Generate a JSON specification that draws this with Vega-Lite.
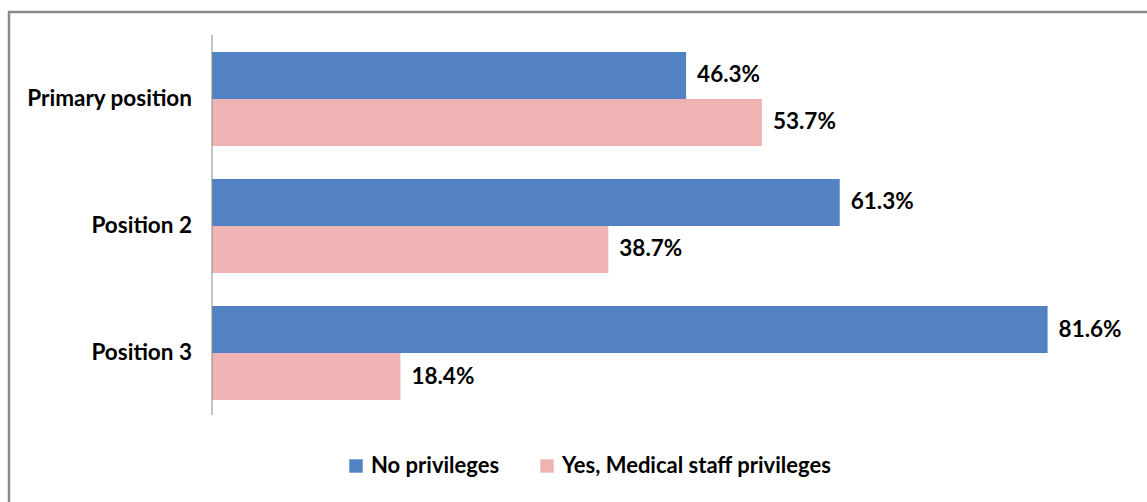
{
  "$schema": "https://vega.github.io/schema/vega-lite/v6.json",
  "width": 1150,
  "height": 500,
  "autosize": {"type": "none"},
  "padding": {"left": 9, "top": 12, "right": 0, "bottom": 0},
  "background": "white",
  "config": {"view": {"stroke": "#8a8a8a", "strokeWidth": 2.5}, "font": "Lato"},
  "data": {
    "values": [
      {"position": "Primary position", "privileges": "No privileges", "pct": 0.463},
      {"position": "Primary position", "privileges": "Yes, Medical staff privileges", "pct": 0.537},
      {"position": "Position 2", "privileges": "No privileges", "pct": 0.613},
      {"position": "Position 2", "privileges": "Yes, Medical staff privileges", "pct": 0.387},
      {"position": "Position 3", "privileges": "No privileges", "pct": 0.816},
      {"position": "Position 3", "privileges": "Yes, Medical staff privileges", "pct": 0.184}
    ]
  },
  "encoding": {
    "y": {
      "field": "position",
      "type": "nominal",
      "sort": ["Primary position", "Position 2", "Position 3"],
      "scale": {"paddingInner": 0.26, "paddingOuter": 0.598, "align": 0.263},
      "axis": null
    }
  },
  "layer": [
    {
      "mark": {"type": "bar"},
      "encoding": {
        "x": {"field": "pct", "type": "quantitative", "scale": {"domain": [-0.19824, 0.9248], "nice": false, "zero": false}, "axis": null},
        "yOffset": {"field": "privileges", "type": "nominal", "sort": ["No privileges", "Yes, Medical staff privileges"], "scale": {"paddingInner": 0, "paddingOuter": 0}},
        "color": {
          "field": "privileges",
          "type": "nominal",
          "scale": {"domain": ["No privileges", "Yes, Medical staff privileges"], "range": ["#5282c3", "#f0b3b3"]},
          "legend": {
            "orient": "none",
            "legendX": 336,
            "legendY": 443,
            "direction": "horizontal",
            "title": null,
            "symbolType": "square",
            "symbolSize": 180,
            "symbolStrokeWidth": 0,
            "labelFontSize": 22,
            "labelFont": "Lato",
            "labelFontWeight": "bold",
            "labelColor": "#000000",
            "labelLimit": 500,
            "columnPadding": 36,
            "labelOffset": 4,
            "padding": 0
          }
        }
      }
    },
    {
      "mark": {"type": "text", "align": "left", "baseline": "middle", "dx": 11, "fontWeight": "bold", "fontSize": 22.5, "color": "#000000"},
      "encoding": {
        "x": {"field": "pct", "type": "quantitative"},
        "yOffset": {"field": "privileges", "type": "nominal", "sort": ["No privileges", "Yes, Medical staff privileges"]},
        "text": {"field": "pct", "type": "quantitative", "format": ".1%"}
      }
    },
    {
      "transform": [{"filter": "datum.privileges === 'No privileges'"}],
      "mark": {"type": "text", "align": "right", "baseline": "middle", "dx": -20, "fontWeight": "bold", "fontSize": 22.5, "color": "#000000"},
      "encoding": {
        "x": {"datum": 0, "type": "quantitative"},
        "text": {"field": "position", "type": "nominal"}
      }
    },
    {
      "data": {"values": [{}]},
      "mark": {"type": "rule", "color": "#888888", "strokeWidth": 1},
      "encoding": {
        "x": {"datum": 0, "type": "quantitative"},
        "y": {"datum": "Primary position", "type": "nominal", "bandPosition": -0.181},
        "y2": {"datum": "Position 3", "bandPosition": 1.16}
      }
    }
  ]
}
